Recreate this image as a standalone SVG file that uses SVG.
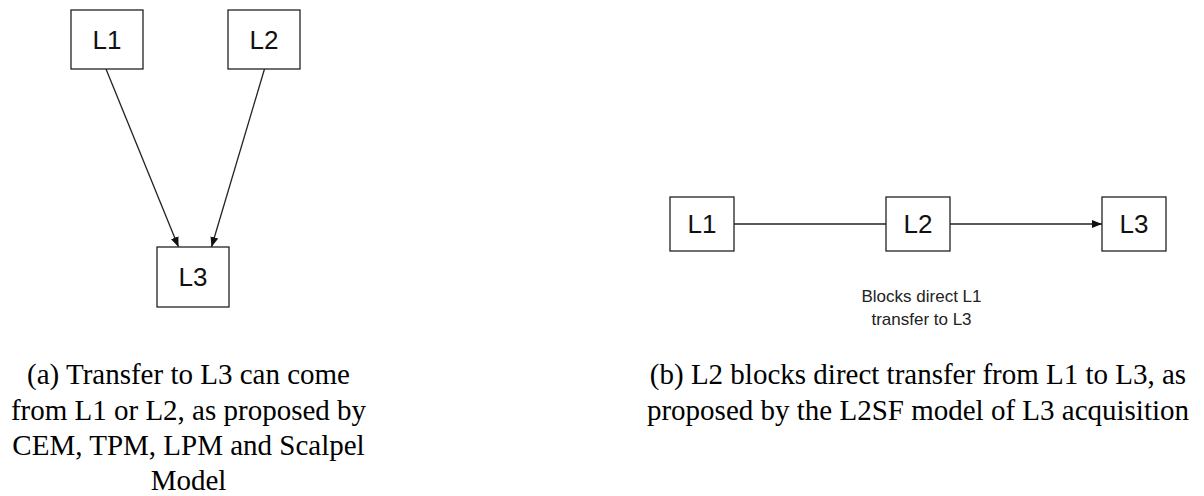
<svg xmlns="http://www.w3.org/2000/svg" width="1204" height="496" viewBox="0 0 1204 496">
  <style>
    .box { fill: #ffffff; stroke: #222222; stroke-width: 1.3; }
    .lbl { font-family: "Liberation Sans", Arial, sans-serif; font-size: 26px; fill: #111; text-anchor: middle; }
    .note { font-family: "Liberation Sans", Arial, sans-serif; font-size: 17px; fill: #222; text-anchor: middle; }
    .cap { font-family: "Liberation Serif", "Times New Roman", serif; font-size: 29px; fill: #000; text-anchor: middle; }
    .edge { stroke: #222; stroke-width: 1.3; fill: none; }
  </style>
  <defs>
    <marker id="arrow" markerWidth="10" markerHeight="8" refX="10" refY="4" orient="auto" markerUnits="userSpaceOnUse">
      <path d="M0,0 L10,4 L0,8 Z" fill="#111"/>
    </marker>
  </defs>
  <rect width="1204" height="496" fill="#ffffff"/>

  <!-- connectors -->
  <g id="connectors">
    <line class="edge" x1="106" y1="69" x2="178.5" y2="247" marker-end="url(#arrow)"/>
    <line class="edge" x1="264.5" y1="69" x2="211.5" y2="247" marker-end="url(#arrow)"/>
    <line class="edge" x1="734" y1="224" x2="886" y2="224"/>
    <line class="edge" x1="950" y1="224" x2="1102" y2="224" marker-end="url(#arrow)"/>
  </g>

  <!-- panel (a) -->
  <g id="a-L1">
    <rect class="box" x="71" y="10" width="72" height="59"/>
    <text class="lbl" x="107" y="49">L1</text>
  </g>
  <g id="a-L2">
    <rect class="box" x="228" y="10" width="72" height="59"/>
    <text class="lbl" x="264" y="49">L2</text>
  </g>
  <g id="a-L3">
    <rect class="box" x="157" y="247" width="72" height="60"/>
    <text class="lbl" x="193" y="286">L3</text>
  </g>

  <!-- panel (b) -->
  <g id="b-L1">
    <rect class="box" x="670" y="197" width="64" height="54"/>
    <text class="lbl" x="702" y="233">L1</text>
  </g>
  <g id="b-L2">
    <rect class="box" x="886" y="197" width="64" height="54"/>
    <text class="lbl" x="918" y="233">L2</text>
  </g>
  <g id="b-L3">
    <rect class="box" x="1102" y="197" width="64" height="54"/>
    <text class="lbl" x="1134" y="233">L3</text>
  </g>
  <g id="b-note">
    <text class="note" x="921.5" y="301.5">Blocks direct L1</text>
    <text class="note" x="921.5" y="325">transfer to L3</text>
  </g>

  <!-- captions -->
  <g id="caption-a">
    <text class="cap" x="188.5" y="384">(a) Transfer to L3 can come</text>
    <text class="cap" x="188.5" y="419.5">from L1 or L2, as proposed by</text>
    <text class="cap" x="188.5" y="455">CEM, TPM, LPM and Scalpel</text>
    <text class="cap" x="188.5" y="490">Model</text>
  </g>
  <g id="caption-b">
    <text class="cap" x="918" y="384">(b) L2 blocks direct transfer from L1 to L3, as</text>
    <text class="cap" x="918" y="419.5">proposed by the L2SF model of L3 acquisition</text>
  </g>
</svg>
